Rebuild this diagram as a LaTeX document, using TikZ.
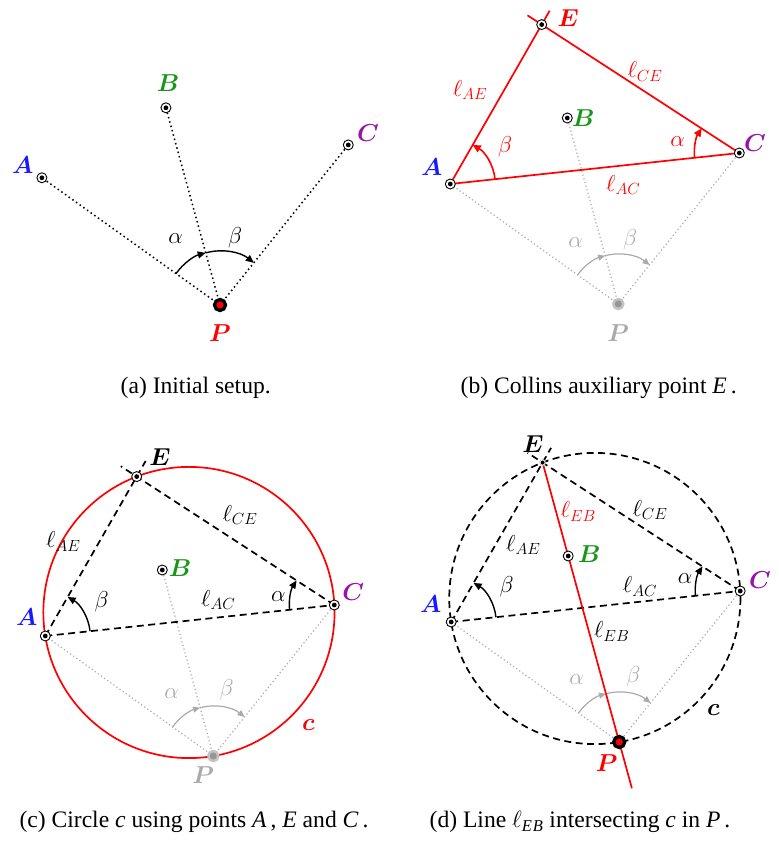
\documentclass[tikz,border=0pt]{standalone}
\usepackage{fix-cm}
\usepackage{amsmath}
\usepackage{fontspec}
\setmainfont{Liberation Serif}
\usetikzlibrary{arrows.meta,calc}

\definecolor{cA}{RGB}{25,25,255}
\definecolor{cB}{RGB}{25,150,25}
\definecolor{cC}{RGB}{150,20,170}
\definecolor{cR}{RGB}{255,0,0}
\definecolor{faint}{RGB}{170,170,170}
\definecolor{pgray}{RGB}{150,150,150}
\definecolor{pring}{RGB}{195,195,195}

\tikzset{
 lbl/.style={inner sep=0pt, font=\fontsize{23}{27}\selectfont},
 ptl/.style={inner sep=0pt, font=\fontsize{24.5}{28}\selectfont\boldmath},
 captext/.style={inner sep=0pt, font=\fontsize{23.6}{28}\selectfont},
 mk/.style={circle, draw=black, line width=0.9pt, fill=white, minimum size=10pt, inner sep=0pt,
   path picture={\fill[black] (path picture bounding box.center) circle (2.4pt);}},
 mkE/.style={circle, draw=pring, line width=0.6pt, fill=white, minimum size=6pt, inner sep=0pt,
   path picture={\fill[black] (path picture bounding box.center) circle (2pt);}},
 pred/.style={circle, draw=black, line width=3.3pt, fill=cR, minimum size=11pt, inner sep=0pt},
 pgr/.style={circle, draw=pring, line width=2.5pt, fill=pgray, minimum size=10pt, inner sep=0pt},
 dotk/.style={black, line width=1.5pt, dash pattern=on 1.5pt off 3pt},
 dotg/.style={faint, line width=1.2pt, dash pattern=on 1.2pt off 2.6pt},
 redl/.style={cR, line width=1.7pt},
 dashk/.style={black, line width=1.7pt, dash pattern=on 7pt off 4.5pt},
 arck/.style={black, line width=1.4pt, -{Triangle[length=8pt,width=7pt]}},
 arcg/.style={faint, line width=1.2pt, -{Triangle[length=7pt,width=6pt]}},
 arcr/.style={cR, line width=1.6pt, -{Triangle[length=8pt,width=7.5pt]}},
}

\begin{document}
\begin{tikzpicture}[x=1pt,y=1pt]
\useasboundingbox (0,0) rectangle (778,842);

% ---------------- (a) ----------------
\begin{scope}[shift={(220,537)}, scale=1.06]
 \coordinate (aP) at (0,0);
 \coordinate (aA) at (-168,120);
 \coordinate (aB) at (-51,186);
 \coordinate (aC) at (121,151);
 \draw[dotk] (aP) -- (aA);
 \draw[dotk] (aP) -- (aB);
 \draw[dotk] (aP) -- (aC);
 \draw[arck] (144.46:51) arc[start angle=144.46, end angle=105.33, radius=51];
 \draw[arck] (105.33:51) arc[start angle=105.33, end angle=51.29, radius=51];
 \node[mk] (naA) at (aA) {};
 \node[mk] (naB) at (aB) {};
 \node[mk] (naC) at (aC) {};
 \node[pred] (naP) at (aP) {};
\end{scope}
\node[ptl, text=cA] (laA) at (22.7,677) {$A$};
\node[ptl, text=cB] (laB) at (168,758.7) {$B$};
\node[ptl, text=cC] (laC) at (368,709) {$C$};
\node[ptl, text=cR] (laP) at (220,509) {$P$};
\node[lbl] (laal) at (175.7,603.7) {$\alpha$};
\node[lbl] (labe) at (235,604) {$\beta$};
\node[captext] (capa) at (195.7,454) {(a) Initial setup.};

% ---------------- (b) ----------------
\begin{scope}[shift={(618.3,538)}]
 \coordinate (bP) at (0,0);
 \coordinate (bA) at (-168,120);
 \coordinate (bB) at (-51,186);
 \coordinate (bC) at (121,151);
 \coordinate (bE) at (-76.6,279.4);
 \draw[dotg] (bP) -- (bA);
 \draw[dotg] (bP) -- (bB);
 \draw[dotg] (bP) -- (bC);
 \draw[arcg] (144.46:50) arc[start angle=144.46, end angle=105.33, radius=50];
 \draw[arcg] (105.33:50) arc[start angle=105.33, end angle=51.29, radius=50];
 \draw[redl, shorten >=-16pt] (bA) -- (bE);
 \draw[redl, shorten >=-17pt] (bC) -- (bE);
 \draw[redl] (bA) -- (bC);
 \draw[arcr] (bA) ++(6.12:45) arc[start angle=6.12, end angle=60.17, radius=45];
 \draw[arcr] (bC) ++(186.12:45) arc[start angle=186.12, end angle=146.98, radius=45];
 \node[mk] (nbA) at (bA) {};
 \node[mk] (nbB) at (bB) {};
 \node[mk] (nbC) at (bC) {};
 \node[mk] (nbE) at (bE) {};
 \node[pgr] (nbP) at (bP) {};
\end{scope}
\node[ptl, text=cA] (lbA) at (431.7,675.3) {$A$};
\node[ptl, text=cB] (lbB) at (583.3,723.7) {$B$};
\node[ptl, text=cC] (lbC) at (755,698.7) {$C$};
\node[ptl, text=cR] (lbE) at (568.3,823.7) {$E$};
\node[ptl, text=faint] (lbP) at (618.3,509) {$P$};
\node[lbl, text=cR] (lbAE) at (470,752) {$\ell_{AE}$};
\node[lbl, text=cR] (lbCE) at (645,770.3) {$\ell_{CE}$};
\node[lbl, text=cR] (lbAC) at (623.3,657) {$\ell_{AC}$};
\node[lbl, text=cR] (lbbe) at (505,695.3) {$\beta$};
\node[lbl, text=cR] (lbal) at (677.7,700.3) {$\alpha$};
\node[lbl, text=faint] (lbgal) at (575.7,599.7) {$\alpha$};
\node[lbl, text=faint] (lbgbe) at (630,602.7) {$\beta$};
\node[captext] (capb) at (598.7,454) {(b) Collins auxiliary point \textit{E}\,.};

% ---------------- (c) ----------------
\begin{scope}[shift={(213.3,86)}]
 \coordinate (cP) at (0,0);
 \coordinate (cA) at (-168,120);
 \coordinate (cB) at (-51,186);
 \coordinate (cC) at (121,151);
 \coordinate (cE) at (-76.6,279.4);
 \coordinate (cO) at (-24.36,143.5);
 \draw[redl] (cO) circle[radius=145.6];
 \draw[dotg] (cP) -- (cA);
 \draw[dotg] (cP) -- (cB);
 \draw[dotg] (cP) -- (cC);
 \draw[arcg] (144.46:50) arc[start angle=144.46, end angle=105.33, radius=50];
 \draw[arcg] (105.33:50) arc[start angle=105.33, end angle=51.29, radius=50];
 \draw[dashk, shorten >=-18pt] (cA) -- (cE);
 \draw[dashk, shorten >=-19pt] (cC) -- (cE);
 \draw[dashk] (cA) -- (cC);
 \draw[arck] (cA) ++(6.12:45) arc[start angle=6.12, end angle=60.17, radius=45];
 \draw[arck] (cC) ++(186.12:45) arc[start angle=186.12, end angle=146.98, radius=45];
 \node[mk] (ncA) at (cA) {};
 \node[mk] (ncB) at (cB) {};
 \node[mk] (ncC) at (cC) {};
 \node[mk] (ncE) at (cE) {};
 \node[pgr] (ncP) at (cP) {};
\end{scope}
\node[ptl, text=cA] (lcA) at (26.7,225.3) {$A$};
\node[ptl, text=cB] (lcB) at (180,273.7) {$B$};
\node[ptl, text=cC] (lcC) at (353.3,250.3) {$C$};
\node[ptl] (lcE) at (160,385.3) {$E$};
\node[ptl, text=faint] (lcP) at (203.3,67) {$P$};
\node[ptl, text=cR] (lcc) at (308.3,117) {$c$};
\node[lbl] (lcAE) at (63.3,300.3) {$\ell_{AE}$};
\node[lbl] (lcCE) at (240,327) {$\ell_{CE}$};
\node[lbl] (lcAC) at (218.3,242) {$\ell_{AC}$};
\node[lbl] (lcbe) at (101.7,240.3) {$\beta$};
\node[lbl] (lcal) at (278.3,245.3) {$\alpha$};
\node[lbl, text=faint] (lcgal) at (171.7,148.7) {$\alpha$};
\node[lbl, text=faint] (lcgbe) at (226.7,152) {$\beta$};
\node[captext] (capc) at (194,20) {(c) Circle \textit{c} using points \textit{A}\,, \textit{E} and \textit{C}\,.};

% ---------------- (d) ----------------
\begin{scope}[shift={(619.2,100)}]
 \coordinate (dP) at (0,0);
 \coordinate (dA) at (-168,120);
 \coordinate (dB) at (-51,186);
 \coordinate (dC) at (121,151);
 \coordinate (dE) at (-76.6,279.4);
 \coordinate (dO) at (-24.36,143.5);
 \draw[dashk] (dO) circle[radius=145.6];
 \draw[dotg] (dP) -- (dA);
 \draw[dotg] (dP) -- (dC);
 \draw[arcg] (144.46:50) arc[start angle=144.46, end angle=105.33, radius=50];
 \draw[arcg] (105.33:50) arc[start angle=105.33, end angle=51.29, radius=50];
 \draw[dashk, shorten >=-17pt] (dA) -- (dE);
 \draw[dashk, shorten >=-18pt] (dC) -- (dE);
 \draw[dashk] (dA) -- (dC);
 \draw[redl, shorten >=-48pt] (dE) -- (dP);
 \draw[arck] (dA) ++(6.12:45) arc[start angle=6.12, end angle=60.17, radius=45];
 \draw[arck] (dC) ++(186.12:45) arc[start angle=186.12, end angle=146.98, radius=45];
 \node[mk] (ndA) at (dA) {};
 \node[mk] (ndB) at (dB) {};
 \node[mk] (ndC) at (dC) {};
 \node[mkE] (ndE) at (dE) {};
 \node[pred] (ndP) at (dP) {};
\end{scope}
\node[ptl, text=cA] (ldA) at (430.7,238) {$A$};
\node[ptl, text=cB] (ldB) at (589.3,287.7) {$B$};
\node[ptl, text=cC] (ldC) at (760,262) {$C$};
\node[ptl] (ldE) at (533,398) {$E$};
\node[ptl, text=cR] (ldP) at (606.7,78.7) {$P$};
\node[ptl] (ldc) at (713.3,132) {$c$};
\node[lbl, text=cR] (ldEB1) at (578.3,330.3) {$\ell_{EB}$};
\node[lbl] (ldEB2) at (611.7,210.3) {$\ell_{EB}$};
\node[lbl] (ldAE) at (523.3,297) {$\ell_{AE}$};
\node[lbl] (ldCE) at (650,332) {$\ell_{CE}$};
\node[lbl] (ldAC) at (640,255.3) {$\ell_{AC}$};
\node[lbl] (ldbe) at (506.7,255.3) {$\beta$};
\node[lbl] (ldal) at (685,263.7) {$\alpha$};
\node[lbl, text=faint] (ldgal) at (576.7,162) {$\alpha$};
\node[lbl, text=faint] (ldgbe) at (633.3,165.3) {$\beta$};
\node[captext] (capd) at (580,20) {(d) Line $\ell_{\textit{E\kern1pt B}}$ intersecting \textit{c} in \textit{P}\,.};
\end{tikzpicture}
\end{document}
